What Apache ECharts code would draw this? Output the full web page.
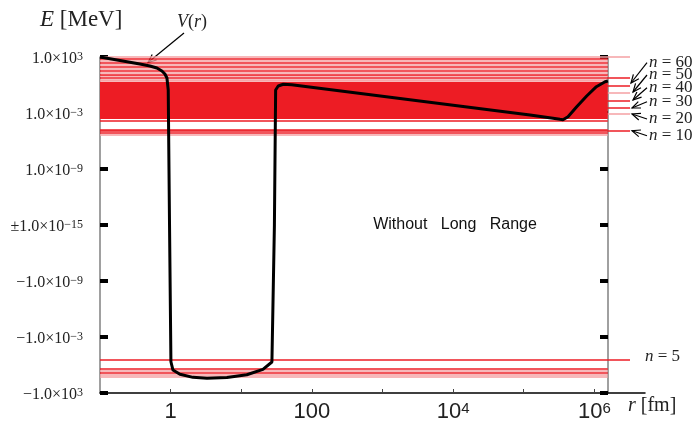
<!DOCTYPE html>
<html>
<head>
<meta charset="utf-8">
<script src="https://cdn.jsdelivr.net/npm/echarts@6/dist/echarts.min.js"></script>
<style>
html,body{margin:0;padding:0;background:#fff}
#chart{width:692px;height:429px}
</style>
</head>
<body>
<div id="chart"></div>
<script>
// V(r): r in fm, E in MeV
const curveR = [0.1, 0.367, 0.509, 0.64, 0.753, 0.83, 0.887, 0.925, 0.965, 1.01, 1.08, 1.355, 2.07, 3.27, 6.27, 12, 20.3, 27.2, 29.5, 30.7, 33.4, 39.4, 51.8, 1.23e5, 3.27e5, 3.6e5, 4.24e5, 5.63e5, 7.8e5, 1.07e6, 1.42e6, 1.56e6];
const curveE = [1000, 178, 109, 66, 31.6, 15, 5.6, 0.29, 0, -0.45, -3.5, -10, -21, -27, -22, -11, -2.9, -0.48, 0, 0.29, 0.78, 1.19, 1.07, 6.2e-4, 2.1e-4, 1.9e-4, 4e-4, 4.7e-3, 0.066, 0.66, 2.24, 2.7];

// energy levels (MeV)
const levelsDark = [692, 257, 95.5, 35.5, 13.5, 1.38e-4, 1.78e-5, 7.2e-6, -2.24, -6.7];
const levelsLight = [427, 158, 58.9, 21.9, 9.1, 3.89, 2.69, 4.4e-6, -4.1, -10.5, -16.2];
// levels that run past the right axis to the n labels
const labelledDark = [6.03, 0.78, 0.0195, 4.1e-3, 1.26e-5, -0.245];
const labelledLight = [1000, 0.15, 7.8e-4];
// dense block of levels
const bandTop = 2.1;
const bandBottom = 2.3e-4;

const nLabels = ['60', '50', '40', '30', '20', '10'];
const xTicks = [1, 10, 100, 1e3, 1e4, 1e5, 1e6];
const xLabels = [1, 100, 1e4, 1e6];

const rMin = 0.1, rMax = 5.22e6, rAxis = 1.55e6, rExt = 3.2e6;

// signed log axis: +-1e-15 sits at 0, one unit per decade
function sym(E) {
  if (E === 0) return 0;
  return Math.sign(E) * (Math.log10(Math.abs(E)) + 15);
}

const RED = '#ed1c24', PINK = '#f5a0a3';
const serif = '"Liberation Serif", "DejaVu Serif", serif';
const sans = '"Liberation Sans", Arial, sans-serif';

function hline(E, r1, color) {
  return { coords: [[rMin, sym(E)], [r1, sym(E)]], lineStyle: { color: color } };
}
const levelLines = []
  .concat(levelsLight.map(e => hline(e, rAxis, PINK)))
  .concat(levelsDark.map(e => hline(e, rAxis, RED)))
  .concat(labelledLight.map(e => hline(e, rExt, PINK)))
  .concat(labelledDark.map(e => hline(e, rExt, RED)));

const supRich = {
  s: { fontSize: 12, fontFamily: serif, color: '#222', verticalAlign: 'top', lineHeight: 11 }
};

const chart = echarts.init(document.getElementById('chart'));

function arrow(x1, y1, x2, y2) {
  const a = Math.atan2(y2 - y1, x2 - x1), L = 9, w = 0.4;
  const style = { stroke: '#000', lineWidth: 1.2 };
  return {
    type: 'group', silent: true,
    children: [
      { type: 'line', shape: { x1: x1, y1: y1, x2: x2, y2: y2 }, style: style },
      { type: 'polyline', shape: { points: [
        [x2 - L * Math.cos(a - w), y2 - L * Math.sin(a - w)], [x2, y2],
        [x2 - L * Math.cos(a + w), y2 - L * Math.sin(a + w)]] }, style: style }
    ]
  };
}

const nY = [62.7, 75, 87.7, 101.7, 119, 135.7];
const nTips = [[631, 83], [633, 92], [633, 100], [632, 108], [632, 114], [632, 130.7]];

const graphics = [
  { type: 'text', left: 40, top: 8, style: { text: '{i|E} [MeV]', font: '23px ' + serif, fill: '#222',
    rich: { i: { fontStyle: 'italic', fontSize: 23, fontFamily: serif } } } },
  { type: 'text', left: 177, top: 13, style: { text: '{i|V}({i|r})', font: '18px ' + serif, fill: '#222',
    rich: { i: { fontStyle: 'italic', fontSize: 18, fontFamily: serif } } } },
  arrow(184, 33, 148, 62.5),
  { type: 'text', left: 628, top: 396, style: { text: '{i|r} [fm]', font: '20px ' + serif, fill: '#222',
    rich: { i: { fontStyle: 'italic', fontSize: 20, fontFamily: serif } } } },
  { type: 'text', x: 455, y: 225, style: { text: 'Without   Long   Range', font: '16px ' + sans, fill: '#111',
    align: 'center', verticalAlign: 'middle' } },
  { type: 'text', x: 645, y: 356.7, style: { text: '{i|n} = 5', font: '17px ' + serif, fill: '#222',
    verticalAlign: 'middle', rich: { i: { fontStyle: 'italic', fontSize: 17, fontFamily: serif } } } }
];
nLabels.forEach((n, i) => {
  graphics.push({ type: 'text', x: 649, y: nY[i], style: { text: '{i|n} = ' + n, font: '17px ' + serif, fill: '#222',
    verticalAlign: 'middle', rich: { i: { fontStyle: 'italic', fontSize: 17, fontFamily: serif } } } });
  graphics.push(arrow(647, nY[i], nTips[i][0], nTips[i][1]));
});

const yAxisBase = {
  type: 'value', min: -18, max: 18, interval: 6,
  splitLine: { show: false },
  axisLine: { show: true, onZero: false, lineStyle: { color: '#808080', width: 1.5 } },
  axisTick: { show: true, inside: true, length: 8, lineStyle: { color: '#000', width: 4 } }
};

chart.setOption({
  animation: false,
  grid: { left: 100, right: 47, top: 57, bottom: 36, containLabel: false, outerBoundsMode: 'none' },
  xAxis: {
    type: 'log', logBase: 10, min: rMin, max: rMax,
    splitLine: { show: false },
    axisLine: { onZero: false, lineStyle: { color: '#000', width: 1.5 } },
    axisTick: { inside: true, length: 4, customValues: xTicks, lineStyle: { color: '#444', width: 1 } },
    axisLabel: {
      customValues: xLabels, margin: 8, fontSize: 22, fontFamily: sans, color: '#222',
      formatter: v => {
        const e = Math.round(Math.log10(v));
        return e <= 2 ? String(Math.round(v)) : '10{s|' + e + '}';
      },
      rich: { s: { fontSize: 15, fontFamily: sans, color: '#222', verticalAlign: 'top', lineHeight: 14 } }
    }
  },
  yAxis: [
    Object.assign({}, yAxisBase, {
      position: 'left',
      axisLabel: {
        margin: 17, fontSize: 16, fontFamily: serif, color: '#222', padding: [3, 0, 0, 0],
        formatter: t => {
          if (t === 0) return '\u00b11.0\u00d710{s|\u221215}';
          const e = Math.abs(t) - 15;
          const ex = e < 0 ? '\u2212' + (-e) : String(e);
          return (t < 0 ? '\u2212' : '') + '1.0\u00d710{s|' + ex + '}';
        },
        rich: supRich
      }
    }),
    Object.assign({}, yAxisBase, { position: 'right', offset: -37, axisLabel: { show: false } })
  ],
  graphic: graphics,
  series: [
    {
      type: 'lines', coordinateSystem: 'cartesian2d', z: 2, clip: false, silent: true,
      lineStyle: { width: 1.5, opacity: 1 },
      data: levelLines
    },
    {
      type: 'line', z: 10, symbol: 'none', clip: false, silent: true,
      lineStyle: { color: '#000', width: 3 },
      data: curveR.map((r, i) => [r, sym(curveE[i])]),
      markArea: {
        silent: true, z: 5,
        itemStyle: { color: RED, opacity: 1 },
        data: [[{ coord: [rMin, sym(bandTop)] }, { coord: [rAxis, sym(bandBottom)] }]]
      }
    }
  ]
});
</script>
</body>
</html>
